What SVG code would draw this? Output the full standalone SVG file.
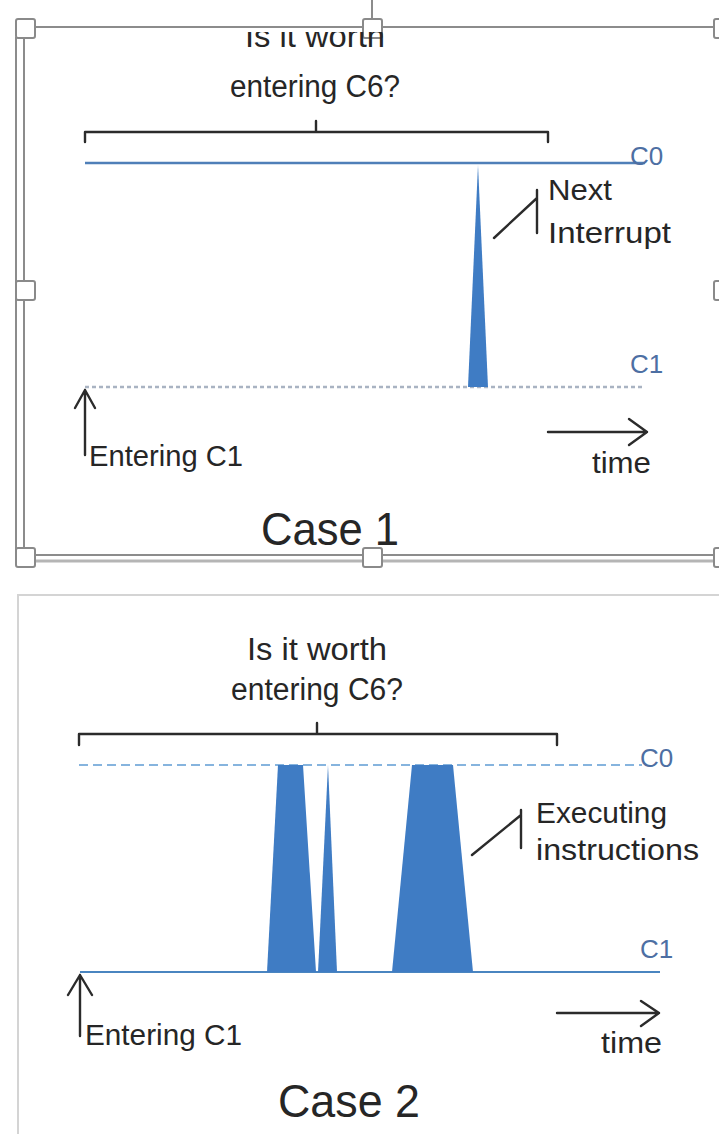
<svg xmlns="http://www.w3.org/2000/svg" width="719" height="1134" viewBox="0 0 719 1134">
  <style>
    .txt { font-family: "Liberation Sans", Arial, sans-serif; fill: #262626; }
    .q { font-size: 31px; text-anchor: middle; }
    .lbl { font-size: 30px; }
    .lvl { font-size: 26px; fill: #4d6fa3; }
    .title { font-size: 47px; text-anchor: middle; }
    .ink { fill: none; stroke: #2b2b2b; stroke-width: 2.4; stroke-linecap: round; stroke-linejoin: round; }
    .peak { fill: #3f7cc4; }
    .handle { fill: #ffffff; stroke: #8a8a8a; stroke-width: 2; }
    .frame { fill: none; stroke: #8c8c8c; stroke-width: 2; }
  </style>
  <defs>
    <clipPath id="belowTop">
      <rect x="0" y="32" width="719" height="600"/>
    </clipPath>
  </defs>
  <rect width="719" height="1134" fill="#ffffff"/>

  <!-- Case 1: selection frame with sizing handles -->
  <g id="case1-frame">
    <line class="frame" x1="372" y1="0" x2="372" y2="20"/>
    <line class="frame" x1="25" y1="27" x2="719" y2="27"/>
    <line class="frame" x1="16" y1="37" x2="16" y2="552"/>
    <line class="frame" x1="24" y1="37" x2="24" y2="552"/>
    <line class="frame" x1="25" y1="555" x2="719" y2="555"/>
    <line x1="25" y1="561" x2="719" y2="561" stroke="#b5b5b5" stroke-width="3"/>
    <rect class="handle" x="16" y="19" width="19" height="19" rx="2"/>
    <rect class="handle" x="363" y="19" width="19" height="19" rx="2"/>
    <rect class="handle" x="714" y="19" width="19" height="19" rx="2"/>
    <rect class="handle" x="16" y="281" width="19" height="19" rx="2"/>
    <rect class="handle" x="714" y="281" width="19" height="19" rx="2"/>
    <rect class="handle" x="16" y="548" width="19" height="19" rx="2"/>
    <rect class="handle" x="363" y="548" width="19" height="19" rx="2"/>
    <rect class="handle" x="714" y="548" width="19" height="19" rx="2"/>
  </g>

  <!-- Case 2: plain panel border -->
  <g id="case2-frame">
    <path d="M18 1134 V595 H719" fill="none" stroke="#d4d4d4" stroke-width="2"/>
  </g>

  <!-- Case 1 -->
  <g id="case1-question">
    <text class="txt q" x="315" y="47" clip-path="url(#belowTop)" textLength="140" lengthAdjust="spacingAndGlyphs">Is it worth</text>
    <text class="txt q" x="315" y="97" textLength="170" lengthAdjust="spacingAndGlyphs">entering C6?</text>
  </g>
  <g id="case1-bracket">
    <path class="ink" d="M85 142 V132 H548 V142 M316 132 V121"/>
  </g>
  <g id="case1-c0">
    <line x1="85" y1="163" x2="645" y2="163" stroke="#4f7fb8" stroke-width="2.6"/>
    <text class="txt lvl" x="630" y="165">C0</text>
  </g>
  <g id="case1-c1">
    <line x1="85" y1="387" x2="645" y2="387" stroke="#a9b3c2" stroke-width="2.4" stroke-dasharray="4 3"/>
    <text class="txt lvl" x="630" y="373">C1</text>
  </g>
  <g id="case1-interrupt">
    <polygon class="peak" points="478,165 488,387 468,387"/>
  </g>
  <g id="case1-interrupt-label">
    <text class="txt lbl" x="548" y="200" textLength="64" lengthAdjust="spacingAndGlyphs">Next</text>
    <text class="txt lbl" x="548" y="243" textLength="123" lengthAdjust="spacingAndGlyphs">Interrupt</text>
  </g>
  <g id="case1-entering">
    <text class="txt lbl" x="89" y="466" textLength="154" lengthAdjust="spacingAndGlyphs">Entering C1</text>
  </g>
  <g id="case1-time">
    <text class="txt lbl" x="592" y="473" textLength="59" lengthAdjust="spacingAndGlyphs">time</text>
  </g>
  <g id="case1-title">
    <text class="txt title" x="330" y="545" textLength="138" lengthAdjust="spacingAndGlyphs">Case 1</text>
  </g>

  <!-- Case 2 -->
  <g id="case2-question">
    <text class="txt q" x="317" y="660" textLength="140" lengthAdjust="spacingAndGlyphs">Is it worth</text>
    <text class="txt q" x="317" y="700" textLength="172" lengthAdjust="spacingAndGlyphs">entering C6?</text>
  </g>
  <g id="case2-bracket">
    <path class="ink" d="M79 745 V734 H557 V745 M317 734 V723"/>
  </g>
  <g id="case2-c0">
    <line x1="79" y1="765" x2="642" y2="765" stroke="#86b4de" stroke-width="2.2" stroke-dasharray="9 5"/>
    <text class="txt lvl" x="640" y="767">C0</text>
  </g>
  <g id="case2-c1">
    <line x1="80" y1="972" x2="660" y2="972" stroke="#4a85c0" stroke-width="2.2"/>
    <text class="txt lvl" x="640" y="958">C1</text>
  </g>
  <g id="case2-bursts">
    <polygon class="peak" points="278,765 303,765 316,972 267,972"/>
    <polygon class="peak" points="328,765 337,972 318,972"/>
    <polygon class="peak" points="412,765 453,765 473,972 392,972"/>
  </g>
  <g id="case2-exec-label">
    <text class="txt lbl" x="536" y="823" textLength="131" lengthAdjust="spacingAndGlyphs">Executing</text>
    <text class="txt lbl" x="536" y="860" textLength="163" lengthAdjust="spacingAndGlyphs">instructions</text>
  </g>
  <g id="case2-entering">
    <text class="txt lbl" x="85" y="1045" textLength="157" lengthAdjust="spacingAndGlyphs">Entering C1</text>
  </g>
  <g id="case2-time">
    <text class="txt lbl" x="601" y="1053" textLength="61" lengthAdjust="spacingAndGlyphs">time</text>
  </g>
  <g id="case2-title">
    <text class="txt title" x="349" y="1117" textLength="142" lengthAdjust="spacingAndGlyphs">Case 2</text>
  </g>

  <!-- connectors: callout leaders and arrows -->
  <g id="connectors" class="ink">
    <path d="M537 190 V233 M537 198 L494 238"/>
    <path d="M85 455 V390 M75 408 L85 390 L95 408"/>
    <path d="M548 432 H647 M629 419 L647 432 L629 445"/>
    <path d="M521 810 V848 M521 815 L472 855"/>
    <path d="M80 1036 V975 M68 995 L80 975 L92 995"/>
    <path d="M557 1013 H659 M641 1001 L659 1013 L641 1026"/>
  </g>
</svg>
